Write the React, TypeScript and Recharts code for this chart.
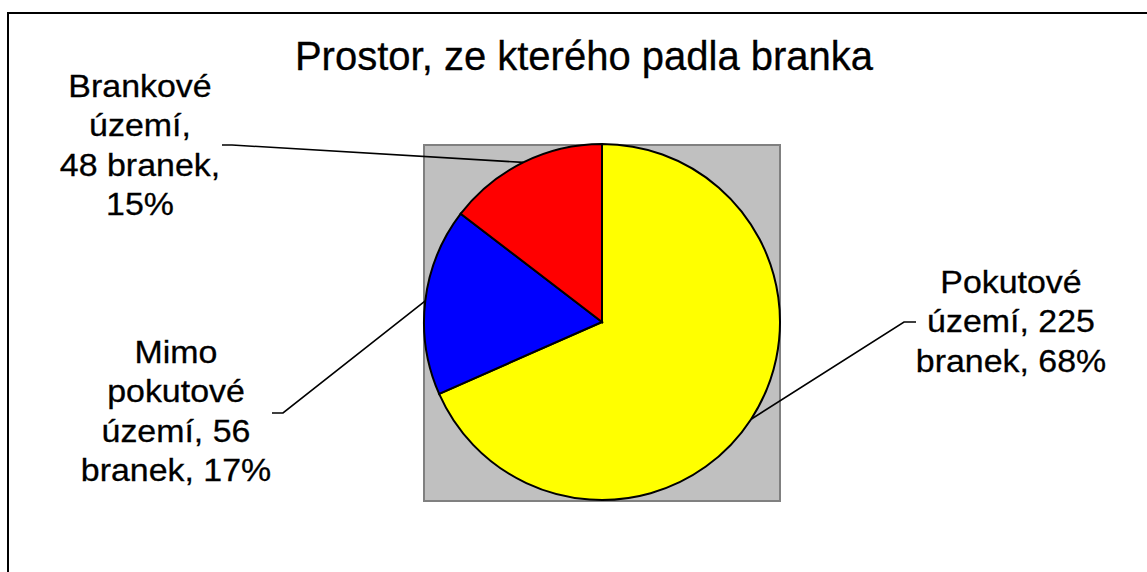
import React from "react";
import { PieChart, Pie, Cell } from "recharts";

const categories = ["Pokutové území", "Mimo pokutové území", "Brankové území"];
const goals = [225, 56, 48];
const colors = ["#FFFF00", "#0000FF", "#FF0000"];
const unit = "branek";
const title = "Prostor, ze kterého padla branka";

// how each label's text is wrapped (number of words per line)
const wrapWords = [
  [1, 2, 2],
  [1, 1, 2, 2],
  [1, 1, 2, 1],
];

// label layout: text centre x, first baseline y, elbow point, end of short horizontal tick
const labelLayout = [
  { tx: 1011, ty: 293, ex: 904, ey: 322, hx: 916 },
  { tx: 176, ty: 363, ex: 283, ey: 413, hx: 272 },
  { tx: 140, ty: 97, ex: 232, ey: 145, hx: 222 },
];

const data = categories.map((name, i) => ({ name, value: goals[i] }));
const total = goals.reduce((a, b) => a + b, 0);

const RADIAN = Math.PI / 180;
const FONT = "'Liberation Sans', Arial, Helvetica, sans-serif";

function wrapText(text: string, spec: number[]): string[] {
  const words = text.split(" ");
  const out: string[] = [];
  let k = 0;
  for (const n of spec) {
    out.push(words.slice(k, k + n).join(" "));
    k += n;
  }
  if (k < words.length) out[out.length - 1] += " " + words.slice(k).join(" ");
  return out;
}

const renderLabel = (props: any) => {
  const { cx, cy, midAngle, outerRadius, index, value } = props;
  const L = labelLayout[index];
  const px = cx + outerRadius * Math.cos(-midAngle * RADIAN);
  const py = cy + outerRadius * Math.sin(-midAngle * RADIAN);
  const pct = Math.round((value / total) * 100);
  const text = `${categories[index]}, ${value} ${unit}, ${pct}%`;
  const lines = wrapText(text, wrapWords[index]);
  return (
    <g key={`lbl-${index}`}>
      <polyline
        points={`${px},${py} ${L.ex},${L.ey} ${L.hx},${L.ey}`}
        fill="none"
        stroke="#000"
        strokeWidth={1.6}
      />
      <g transform={`translate(${L.tx},0) scale(1.06,1) translate(${-L.tx},0)`}>
        <text
          x={L.tx}
          y={L.ty}
          textAnchor="middle"
          fontFamily={FONT}
          fontSize={32}
          fill="#000"
          stroke="#000"
          strokeWidth={0.3}
        >
          {lines.map((ln, j) => (
            <tspan key={j} x={L.tx} y={L.ty + j * 39.5}>
              {ln}
            </tspan>
          ))}
        </text>
      </g>
    </g>
  );
};

export default function App() {
  return (
    <div style={{ position: "absolute", left: 0, top: 0, width: 1147, height: 572, background: "#fff", overflow: "hidden" }}>
      <div
        style={{
          position: "absolute",
          left: 7,
          top: 12,
          width: 1200,
          height: 700,
          border: "2px solid #000",
          boxSizing: "border-box",
        }}
      />
      <div
        style={{
          position: "absolute",
          left: 423,
          top: 144,
          width: 358,
          height: 358,
          background: "#C0C0C0",
          border: "2px solid #808080",
          boxSizing: "border-box",
        }}
      />
      <div style={{ position: "absolute", left: 0, top: 0 }}>
        <PieChart width={1147} height={572} margin={{ top: 0, right: 0, bottom: 0, left: 0 }}>
          <text
            x={584}
            y={70}
            textAnchor="middle"
            fontFamily={FONT}
            fontSize={40}
            fill="#000"
            stroke="#000"
            strokeWidth={0.3}
          >
            {title}
          </text>
          <Pie
            data={data}
            dataKey="value"
            nameKey="name"
            cx={602}
            cy={322}
            outerRadius={178}
            startAngle={90}
            endAngle={-270}
            stroke="#000"
            strokeWidth={2}
            label={renderLabel}
            labelLine={false}
            isAnimationActive={false}
          >
            {data.map((d, i) => (
              <Cell key={d.name} fill={colors[i]} />
            ))}
          </Pie>
        </PieChart>
      </div>
    </div>
  );
}
